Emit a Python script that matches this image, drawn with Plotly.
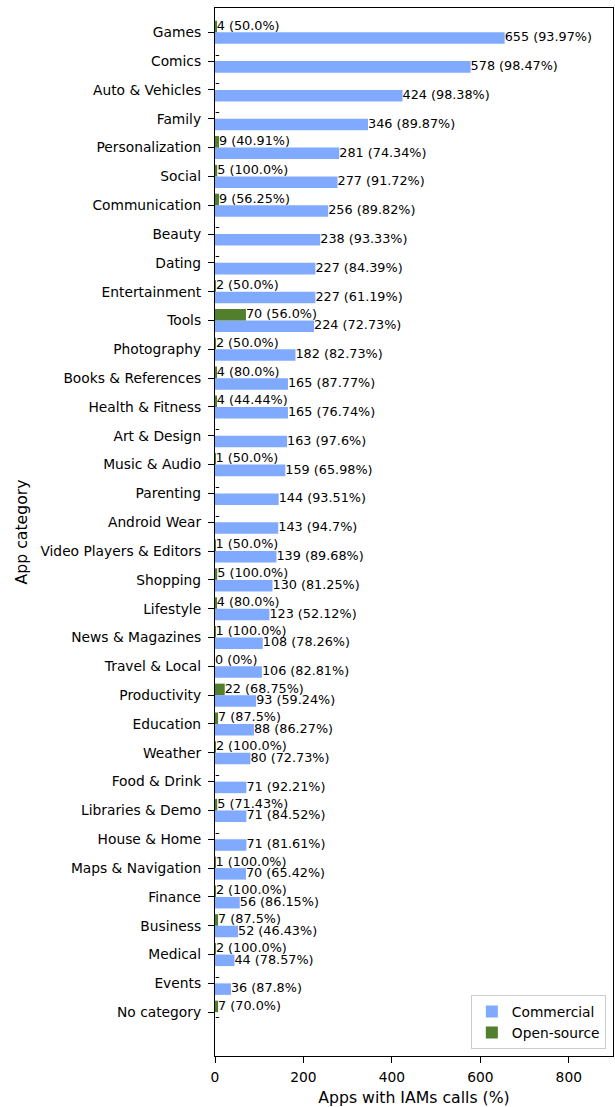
import plotly.graph_objects as go

categories = ["Games", "Comics", "Auto & Vehicles", "Family", "Personalization", "Social",
              "Communication", "Beauty", "Dating", "Entertainment", "Tools", "Photography",
              "Books & References", "Health & Fitness", "Art & Design", "Music & Audio",
              "Parenting", "Android Wear", "Video Players & Editors", "Shopping", "Lifestyle",
              "News & Magazines", "Travel & Local", "Productivity", "Education", "Weather",
              "Food & Drink", "Libraries & Demo", "House & Home", "Maps & Navigation",
              "Finance", "Business", "Medical", "Events", "No category"]

commercial_count = [655, 578, 424, 346, 281, 277, 256, 238, 227, 227, 224, 182, 165, 165, 163,
                    159, 144, 143, 139, 130, 123, 108, 106, 93, 88, 80, 71, 71, 71, 70, 56, 52,
                    44, 36, None]
commercial_pct = [93.97, 98.47, 98.38, 89.87, 74.34, 91.72, 89.82, 93.33, 84.39, 61.19, 72.73,
                  82.73, 87.77, 76.74, 97.6, 65.98, 93.51, 94.7, 89.68, 81.25, 52.12, 78.26,
                  82.81, 59.24, 86.27, 72.73, 92.21, 84.52, 81.61, 65.42, 86.15, 46.43, 78.57,
                  87.8, None]

open_count = [4, None, None, None, 9, 5, 9, None, None, 2, 70, 2, 4, 4, None, 1, None, None, 1,
              5, 4, 1, 0, 22, 7, 2, None, 5, None, 1, 2, 7, 2, None, 7]
open_pct = [50.0, None, None, None, 40.91, 100.0, 56.25, None, None, 50.0, 56.0, 50.0, 80.0,
            44.44, None, 50.0, None, None, 50.0, 100.0, 80.0, 100.0, 0, 68.75, 87.5, 100.0,
            None, 71.43, None, 100.0, 100.0, 87.5, 100.0, None, 70.0]

x_ticks = [0, 200, 400, 600, 800]

BLUE = "#80aaff"
GREEN = "#517f2d"
FONT = "DejaVu Sans"


def labels(counts, pcts):
    return ["-" if c is None else f"{c} ({p}%)" for c, p in zip(counts, pcts)]


def vals(counts):
    return [0 if c is None else c for c in counts]


idx = list(range(len(categories)))
y_com = [i + 0.2 for i in idx]
y_os = [i - 0.2 for i in idx]

fig = go.Figure()
fig.add_trace(go.Bar(y=y_com, x=vals(commercial_count), orientation="h", width=0.4,
                     marker=dict(color=BLUE, line=dict(width=0)), name="Commercial"))
fig.add_trace(go.Bar(y=y_os, x=vals(open_count), orientation="h", width=0.4,
                     marker=dict(color=GREEN, line=dict(width=0)), name="Open-source"))
fig.add_trace(go.Scatter(y=y_com, x=vals(commercial_count), mode="text",
                         text=labels(commercial_count, commercial_pct),
                         textposition="middle right", cliponaxis=False, showlegend=False,
                         textfont=dict(family=FONT, size=12.8, color="black"), hoverinfo="skip"))
fig.add_trace(go.Scatter(y=y_os, x=vals(open_count), mode="text",
                         text=labels(open_count, open_pct),
                         textposition="middle right", cliponaxis=False, showlegend=False,
                         textfont=dict(family=FONT, size=12.8, color="black"), hoverinfo="skip"))

axis_common = dict(showline=True, linecolor="black", linewidth=1.2, mirror=True,
                   ticks="outside", ticklen=6, tickwidth=1.2, tickcolor="black",
                   showgrid=False, zeroline=False,
                   tickfont=dict(family=FONT, size=13.8, color="black"))

fig.update_layout(
    width=615, height=1107,
    margin=dict(l=215, r=2, t=8, b=51),
    paper_bgcolor="white", plot_bgcolor="white",
    barmode="overlay",
    font=dict(family=FONT, color="black"),
    xaxis=dict(range=[0, 900], tickvals=x_ticks, ticktext=[str(v) for v in x_ticks],
               ticklabelstandoff=2,
               title=dict(text="Apps with IAMs calls (%)", font=dict(family=FONT, size=15.7),
                          standoff=10),
               **axis_common),
    yaxis=dict(range=[35.52, -0.843], tickvals=idx, ticktext=categories,
               ticklabelstandoff=4,
               title=dict(text="App category", font=dict(family=FONT, size=15.7), standoff=8),
               **axis_common),
    legend=dict(x=0.982, y=0.0067, xanchor="right", yanchor="bottom",
                bgcolor="white", bordercolor="#cccccc", borderwidth=1,
                font=dict(family=FONT, size=13.8, color="black"),
                traceorder="normal", itemwidth=30),
    showlegend=True,
)

fig.write_html("out.html", config={"displayModeBar": False},
               post_script="document.body.style.margin='0';document.body.style.overflow='hidden';")
